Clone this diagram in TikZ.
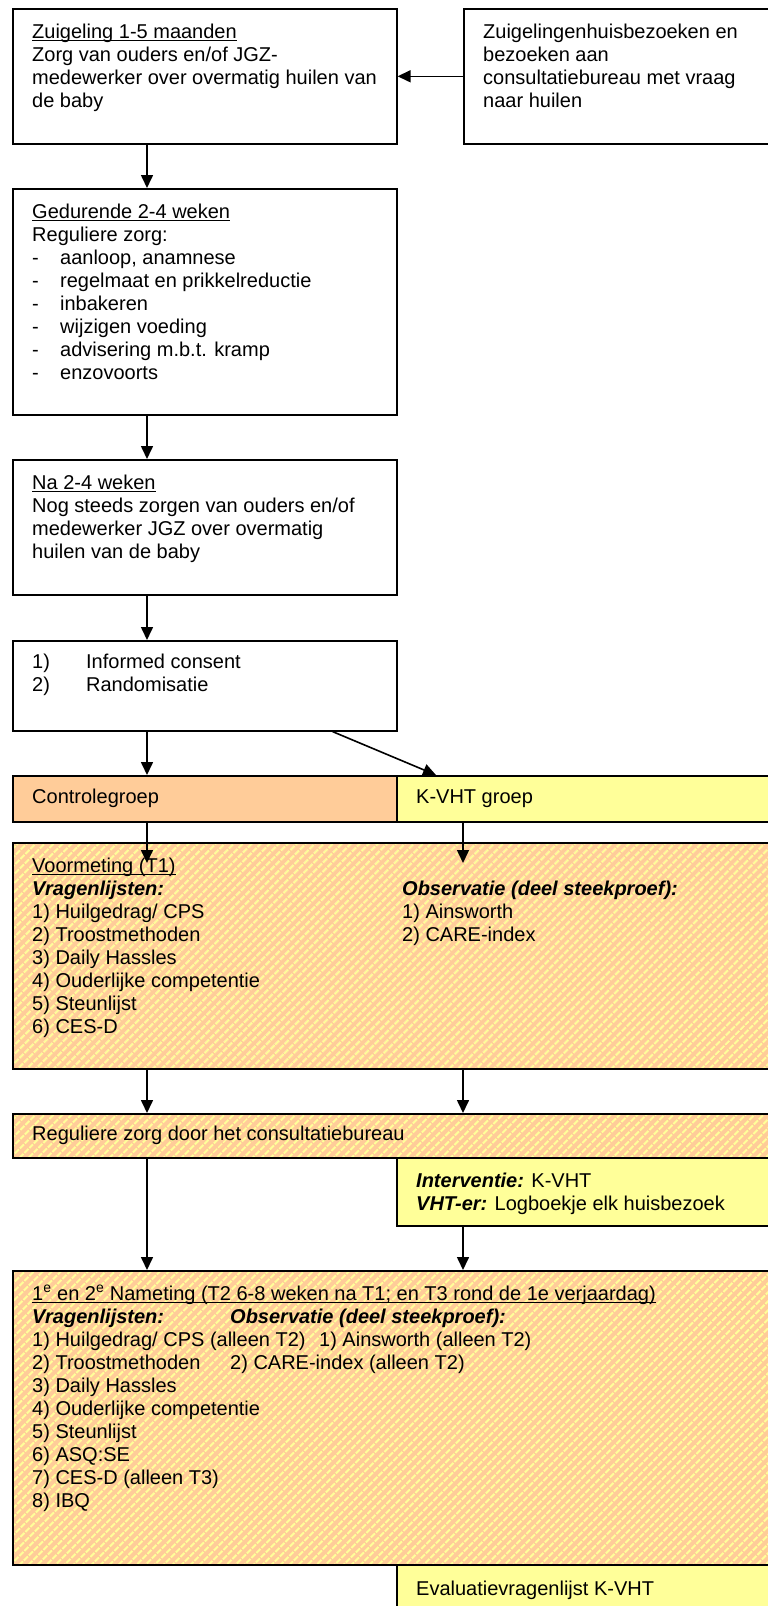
\documentclass[tikz,border=0pt]{standalone}
\usepackage{fontspec}
\setmainfont{Liberation Sans}
\usepackage{xcolor}
\usepackage{tikz}
\usetikzlibrary{arrows.meta,patterns.meta,positioning}
\definecolor{peach}{RGB}{255,204,153}
\definecolor{lyellow}{RGB}{255,255,153}
\newcommand{\kol}[2]{\makebox[#1][l]{#2}}
\newcommand{\bi}[1]{\textbf{\textit{#1}}}
\newcommand{\onder}[1]{\underline{\smash{#1}}}
\tikzset{
  frame/.style={draw,line width=1.6pt,anchor=north west,inner sep=0pt},
  hatch/.style={frame,preaction={fill=peach},pattern={Lines[angle=45,distance=6.4pt,line width=2.3pt]},pattern color=lyellow},
  txt/.style={anchor=north west,inner sep=0pt,align=left,font=\fontsize{20}{23}\selectfont},
  arr/.style={-{Triangle[length=13pt,width=12pt]},line width=1.6pt},
}
\begin{document}
\begin{tikzpicture}[x=1pt,y=-1pt]
\useasboundingbox (0,0) rectangle (768,1606);
% boxes left column
\node[frame,minimum width=384,minimum height=135] (zuig) at (12,8) {};
\node[frame,minimum width=330,minimum height=135] (bezoek) at (463,8) {};
\node[frame,minimum width=384,minimum height=226] (gedurende) at (12,188) {};
\node[frame,minimum width=384,minimum height=135] (na) at (12,459) {};
\node[frame,minimum width=384,minimum height=90] (rand) at (12,640) {};
% groups
\node[frame,fill=peach,minimum width=384,minimum height=46] (ctrl) at (12,775) {};
\node[frame,fill=lyellow,minimum width=400,minimum height=46] (kvht) at (396,775) {};
% measurements
\node[hatch,minimum width=790,minimum height=226] (t1) at (12,842) {};
\node[hatch,minimum width=790,minimum height=44] (cb) at (12,1113) {};
\node[frame,fill=lyellow,minimum width=400,minimum height=68] (interv) at (396,1157) {};
\node[hatch,minimum width=790,minimum height=294] (t23) at (12,1270) {};
\node[frame,fill=lyellow,minimum width=400,minimum height=100] (eval) at (396,1564) {};
% texts
\node[txt] (zuigtxt) at ([shift={(20pt,-14pt)}]zuig.north west)
  {\strut\onder{Zuigeling 1-5 maanden}\\Zorg van ouders en/of JGZ-\\medewerker over overmatig huilen van\\de baby};
\node[txt] (bezoektxt) at ([shift={(20pt,-14pt)}]bezoek.north west)
  {\strut Zuigelingenhuisbezoeken en\\bezoeken aan\\consultatiebureau met vraag\\naar huilen};
\node[txt] (gedurendetxt) at ([shift={(20pt,-14pt)}]gedurende.north west)
  {\strut\onder{Gedurende 2-4 weken}\\Reguliere zorg:\\\kol{28pt}{-}aanloop, anamnese\\\kol{28pt}{-}regelmaat en prikkelreductie\\\kol{28pt}{-}inbakeren\\\kol{28pt}{-}wijzigen voeding\\\kol{28pt}{-}advisering m.b.t. kramp\\\kol{28pt}{-}enzovoorts};
\node[txt] (natxt) at ([shift={(20pt,-14pt)}]na.north west)
  {\strut\onder{Na 2-4 weken}\\Nog steeds zorgen van ouders en/of\\medewerker JGZ over overmatig\\huilen van de baby};
\node[txt] (randtxt) at ([shift={(20pt,-12pt)}]rand.north west)
  {\strut\kol{54pt}{1)}Informed consent\\\kol{54pt}{2)}Randomisatie};
\node[txt,anchor=west] (ctrltxt) at ([xshift=20pt]ctrl.west) {\strut Controlegroep};
\node[txt,anchor=west] (kvhttxt) at ([xshift=20pt]kvht.west) {\strut K-VHT groep};
\node[txt] (t1txt) at ([shift={(20pt,-14pt)}]t1.north west)
  {\strut\onder{Voormeting (T1)}\\\kol{370pt}{\bi{Vragenlijsten:}}\bi{Observatie (deel steekproef):}\\\kol{370pt}{1) Huilgedrag/ CPS}1) Ainsworth\\\kol{370pt}{2) Troostmethoden}2) CARE-index\\3) Daily Hassles\\4) Ouderlijke competentie\\5) Steunlijst\\6) CES-D};
\node[txt,anchor=west] (cbtxt) at ([xshift=20pt]cb.west) {\strut Reguliere zorg door het consultatiebureau};
\node[txt] (intervtxt) at ([shift={(20pt,-14pt)}]interv.north west)
  {\strut\bi{Interventie:} K-VHT\\\bi{VHT-er:} Logboekje elk huisbezoek};
\node[txt] (t23txt) at ([shift={(20pt,-14pt)}]t23.north west)
  {\strut\onder{1\textsuperscript{e} en 2\textsuperscript{e} Nameting (T2 6-8 weken na T1; en T3 rond de 1e verjaardag)}\\\kol{198pt}{\bi{Vragenlijsten:}}\bi{Observatie (deel steekproef):}\\\kol{287pt}{1) Huilgedrag/ CPS (alleen T2)}1) Ainsworth (alleen T2)\\\kol{198pt}{2) Troostmethoden}2) CARE-index (alleen T2)\\3) Daily Hassles\\4) Ouderlijke competentie\\5) Steunlijst\\6) ASQ:SE\\7) CES-D (alleen T3)\\8) IBQ};
\node[txt] (evaltxt) at ([shift={(20pt,-15pt)}]eval.north west) {\strut Evaluatievragenlijst K-VHT};
% arrows
\coordinate (lx) at (147,0);
\coordinate (rx) at (463,0);
\draw[arr] (bezoek.west) -- (zuig.east);
\draw[arr] (zuig.south -| lx) -- (gedurende.north -| lx);
\draw[arr] (gedurende.south -| lx) -- (na.north -| lx);
\draw[arr] (na.south -| lx) -- (rand.north -| lx);
\draw[arr] (rand.south -| lx) -- (ctrl.north -| lx);
\draw[arr] ([xshift=-65pt]rand.south east) -- ([xshift=40pt]kvht.north west);
\draw[arr] (ctrl.south -| lx) -- ([yshift=-21pt]t1.north -| lx);
\draw[arr] (kvht.south -| rx) -- ([yshift=-21pt]t1.north -| rx);
\draw[arr] (t1.south -| lx) -- (cb.north -| lx);
\draw[arr] (t1.south -| rx) -- (cb.north -| rx);
\draw[arr] (cb.south -| lx) -- (t23.north -| lx);
\draw[arr] (interv.south -| rx) -- (t23.north -| rx);
\end{tikzpicture}
\end{document}
